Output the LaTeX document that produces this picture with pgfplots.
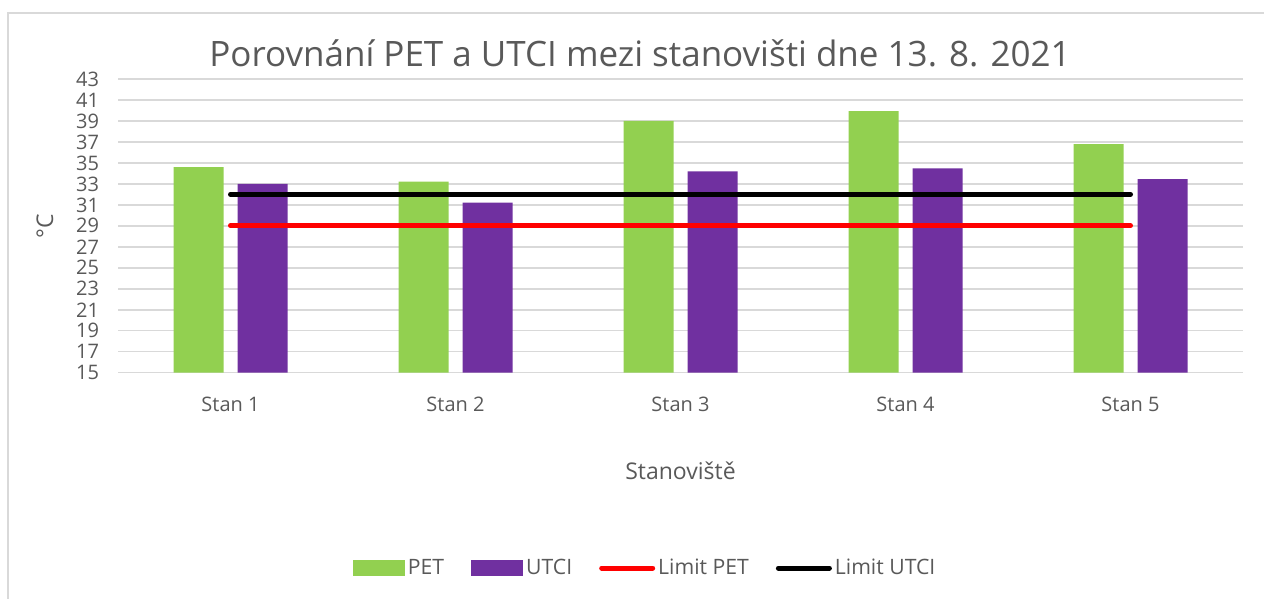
\documentclass[border=0pt]{standalone}
\usepackage{pgfplots}
\pgfplotsset{compat=1.18}
\usepackage{fontspec}
\setmainfont{Open Sans}
\definecolor{txt}{RGB}{89,89,89}
\definecolor{gridc}{RGB}{217,217,217}
\definecolor{petc}{RGB}{146,208,80}
\definecolor{utcic}{RGB}{112,48,160}
\begin{document}
\begin{tikzpicture}
\path[use as bounding box] (0pt,0pt) rectangle (632pt,299.5pt);
\draw[gridc, line width=0.75pt] (4pt,0pt) -- (4pt,293pt) -- (632pt,293pt);
\begin{axis}[
  at={(59pt,113.15pt)}, anchor=south west,
  scale only axis, width=562.5pt, height=146.85pt,
  xmin=-0.5, xmax=4.5, ymin=15, ymax=43,
  ytick={15,17,...,43},
  xtick={0,1,2,3,4},
  xticklabels={Stan 1,Stan 2,Stan 3,Stan 4,Stan 5},
  axis line style={draw=none},
  major tick length=0pt,
  ymajorgrids, grid style={gridc, line width=0.75pt},
  tick label style={font=\fontsize{10}{12}\selectfont, text=txt},
  /pgf/number format/assume math mode=true,
  yticklabel style={xshift=-6pt},
  xticklabel style={yshift=-8.5pt},
  title={Porovnání PET a UTCI mezi stanovišti dne 13. 8. 2021},
  title style={at={(axis description cs:0.464,1.048)}, anchor=center, font=\fontsize{17.5}{20}\selectfont, text=txt},
  xlabel={Stanoviště},
  xlabel style={at={(axis description cs:0.5,-0.334)}, anchor=center, font=\fontsize{11.5}{14}\selectfont, text=txt},
  ylabel={°C},
  ylabel style={at={(axis description cs:-0.0649,0.5)}, anchor=center, rotate=0, font=\fontsize{11.5}{14}\selectfont, text=txt},
  legend columns=4,
  legend style={at={(axis description cs:0.469,-0.665)}, anchor=center, draw=none, fill=none,
    font=\fontsize{10.6}{12}\selectfont, text=txt,
    nodes={inner sep=1.5pt},
    /tikz/every even column/.append style={column sep=12pt}},
  legend cell align=left,
]
\addplot[ybar, bar width=25pt, bar shift=-16pt, fill=petc, draw=none,
  legend image code/.code={\fill[petc] (0pt,-4pt) rectangle (26pt,4pt);}]
  coordinates {(0,34.61) (1,33.22) (2,39.0) (3,39.93) (4,36.78)};
\addlegendentry{PET}
\addplot[ybar, bar width=25pt, bar shift=16pt, fill=utcic, draw=none,
  legend image code/.code={\fill[utcic] (0pt,-4pt) rectangle (26pt,4pt);}]
  coordinates {(0,33.0) (1,31.22) (2,34.2) (3,34.49) (4,33.46)};
\addlegendentry{UTCI}
\addplot[red, line width=2.5pt, line cap=round, mark=none,
  legend image code/.code={\draw[red, line width=2.5pt, line cap=round] (1.25pt,0pt) -- (26.75pt,0pt);}]
  coordinates {(0,29) (4,29)};
\addlegendentry{Limit PET}
\addplot[black, line width=2.5pt, line cap=round, mark=none,
  legend image code/.code={\draw[black, line width=2.5pt, line cap=round] (1.25pt,0pt) -- (26.75pt,0pt);}]
  coordinates {(0,32) (4,32)};
\addlegendentry{Limit UTCI}
\end{axis}
\end{tikzpicture}
\end{document}
